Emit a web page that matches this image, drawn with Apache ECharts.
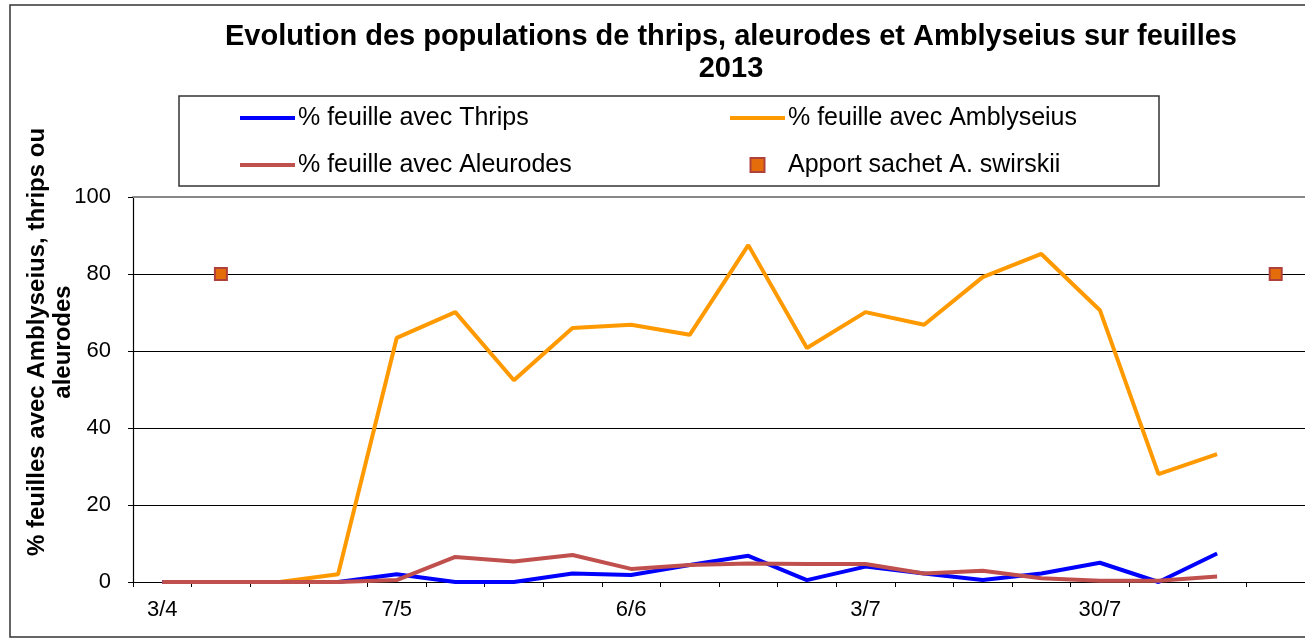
<!DOCTYPE html>
<html>
<head>
<meta charset="utf-8">
<script src="https://cdn.jsdelivr.net/npm/echarts@6/dist/echarts.min.js"></script>
<style>
html,body{margin:0;padding:0;background:#fff;}
#chart{width:1305px;height:639px;}
</style>
</head>
<body>
<div id="chart"></div>
<script>
// ---- data ----
const categories = ['3/4','','','','7/5','','','','6/6','','','','3/7','','','','30/7','','',''];
const thrips     = [0, 0, 0, 0, 2, 0, 0, 2.2, 1.8, 4.4, 6.8, 0.5, 4, 2.2, 0.5, 2.2, 5, 0, 7.4, '-'];
const amblyseius = [0, 0, 0, 2, 63.4, 70.1, 52.4, 66, 66.8, 64.2, 87.5, 60.8, 70.1, 66.8, 79.2, 85.2, 70.6, 28, 33.2, '-'];
const aleurodes  = [0, 0, 0, 0, 0.5, 6.5, 5.3, 7, 3.4, 4.4, 4.8, 4.7, 4.7, 2.2, 2.9, 1, 0.3, 0.3, 1.4, '-'];
const apport     = ['-', 80, '-', '-', '-', '-', '-', '-', '-', '-', '-', '-', '-', '-', '-', '-', '-', '-', '-', 80];
const yTicks = {min: 0, max: 100, interval: 20};
const titleLines = ['Evolution des populations de thrips, aleurodes et Amblyseius sur feuilles', '2013'];
const yTitleLines = ['% feuilles avec Amblyseius, thrips ou', 'aleurodes'];
const names = {
  thrips: '% feuille avec Thrips',
  ambly: '% feuille avec Amblyseius',
  aleu: '% feuille avec Aleurodes',
  apport: 'Apport sachet A. swirskii'
};

const FONT = '"Liberation Sans", Arial, sans-serif';
const chart = echarts.init(document.getElementById('chart'));

const legendText = {fontFamily: FONT, fontSize: 25, color: '#000', lineHeight: 26, padding: [0, 0, 0, -2]};
const LINE_ICON = 'path://M0,0H55V4H0Z';
const SQUARE_ICON = 'path://M0,0H10V10H0Z';

chart.setOption({
  animation: false,
  backgroundColor: '#fff',
  grid: {left: 133, right: -5, top: 197, bottom: 57, containLabel: false},
  legend: [
    {
      orient: 'vertical', left: 240, top: 105, padding: 0,
      itemWidth: 55, itemHeight: 14, itemGap: 21, symbolKeepAspect: true,
      textStyle: legendText,
      data: [{name: names.thrips, icon: LINE_ICON}, {name: names.aleu, icon: LINE_ICON}]
    },
    {
      orient: 'vertical', left: 730, top: 105, padding: 0,
      itemWidth: 55, itemHeight: 14, itemGap: 21, symbolKeepAspect: true,
      textStyle: legendText,
      data: [{name: names.ambly, icon: LINE_ICON}, {name: names.apport, icon: SQUARE_ICON}]
    }
  ],
  xAxis: [
    {
      type: 'category', data: categories, boundaryGap: true,
      axisLine: {lineStyle: {color: '#000', width: 1.2}},
      axisTick: {show: true, interval: 0, length: 5, alignWithLabel: false, lineStyle: {color: '#000'}},
      axisLabel: {interval: 0, margin: 17, fontFamily: FONT, fontSize: 22, color: '#000'},
      splitLine: {show: false}
    },
    {
      type: 'category', data: categories, position: 'top',
      axisLine: {lineStyle: {color: '#888', width: 2}},
      axisTick: {show: false}, axisLabel: {show: false}
    }
  ],
  yAxis: {
    type: 'value', min: yTicks.min, max: yTicks.max, interval: yTicks.interval,
    axisLine: {show: true, lineStyle: {color: '#000', width: 1.2}},
    axisTick: {show: true, length: 5, lineStyle: {color: '#000'}},
    axisLabel: {margin: 22, fontFamily: FONT, fontSize: 22, color: '#000'},
    splitLine: {show: true, lineStyle: {color: ['#000', '#000', '#000', '#000', '#000', '#999'], width: 1}}
  },
  series: [
    {
      name: names.thrips, type: 'line', data: thrips, symbol: 'none',
      lineStyle: {color: '#0000FF', width: 4}, itemStyle: {color: '#0000FF'}, z: 3
    },
    {
      name: names.ambly, type: 'line', data: amblyseius, symbol: 'none',
      lineStyle: {color: '#FF9900', width: 4}, itemStyle: {color: '#FF9900'}, z: 2
    },
    {
      name: names.aleu, type: 'line', data: aleurodes, symbol: 'none',
      lineStyle: {color: '#C0504D', width: 4}, itemStyle: {color: '#C0504D'}, z: 4
    },
    {
      name: names.apport, type: 'scatter', data: apport, symbol: 'rect', symbolSize: 12,
      itemStyle: {color: '#E46C0A', borderColor: '#B0403C', borderWidth: 2, opacity: 1}, z: 5
    }
  ],
  graphic: [
    {type: 'rect', shape: {x: 10, y: 5, width: 1310, height: 632},
      style: {fill: 'none', stroke: '#333', lineWidth: 1.5}, silent: true, z: -10},
    {type: 'rect', shape: {x: 179, y: 96, width: 980, height: 90},
      style: {fill: 'none', stroke: '#333', lineWidth: 1.5}, silent: true},
    {type: 'text', x: 731, y: 37, style: {text: titleLines[0], font: 'bold 29px ' + FONT, fill: '#000', textAlign: 'center', textVerticalAlign: 'middle'}},
    {type: 'text', x: 731, y: 69, style: {text: titleLines[1], font: 'bold 29px ' + FONT, fill: '#000', textAlign: 'center', textVerticalAlign: 'middle'}},
    {type: 'text', x: 37, y: 342, rotation: Math.PI / 2, style: {text: yTitleLines[0], font: 'bold 24px ' + FONT, fill: '#000', textAlign: 'center', textVerticalAlign: 'middle'}},
    {type: 'text', x: 63, y: 342, rotation: Math.PI / 2, style: {text: yTitleLines[1], font: 'bold 24px ' + FONT, fill: '#000', textAlign: 'center', textVerticalAlign: 'middle'}}
  ]
});
</script>
</body>
</html>
